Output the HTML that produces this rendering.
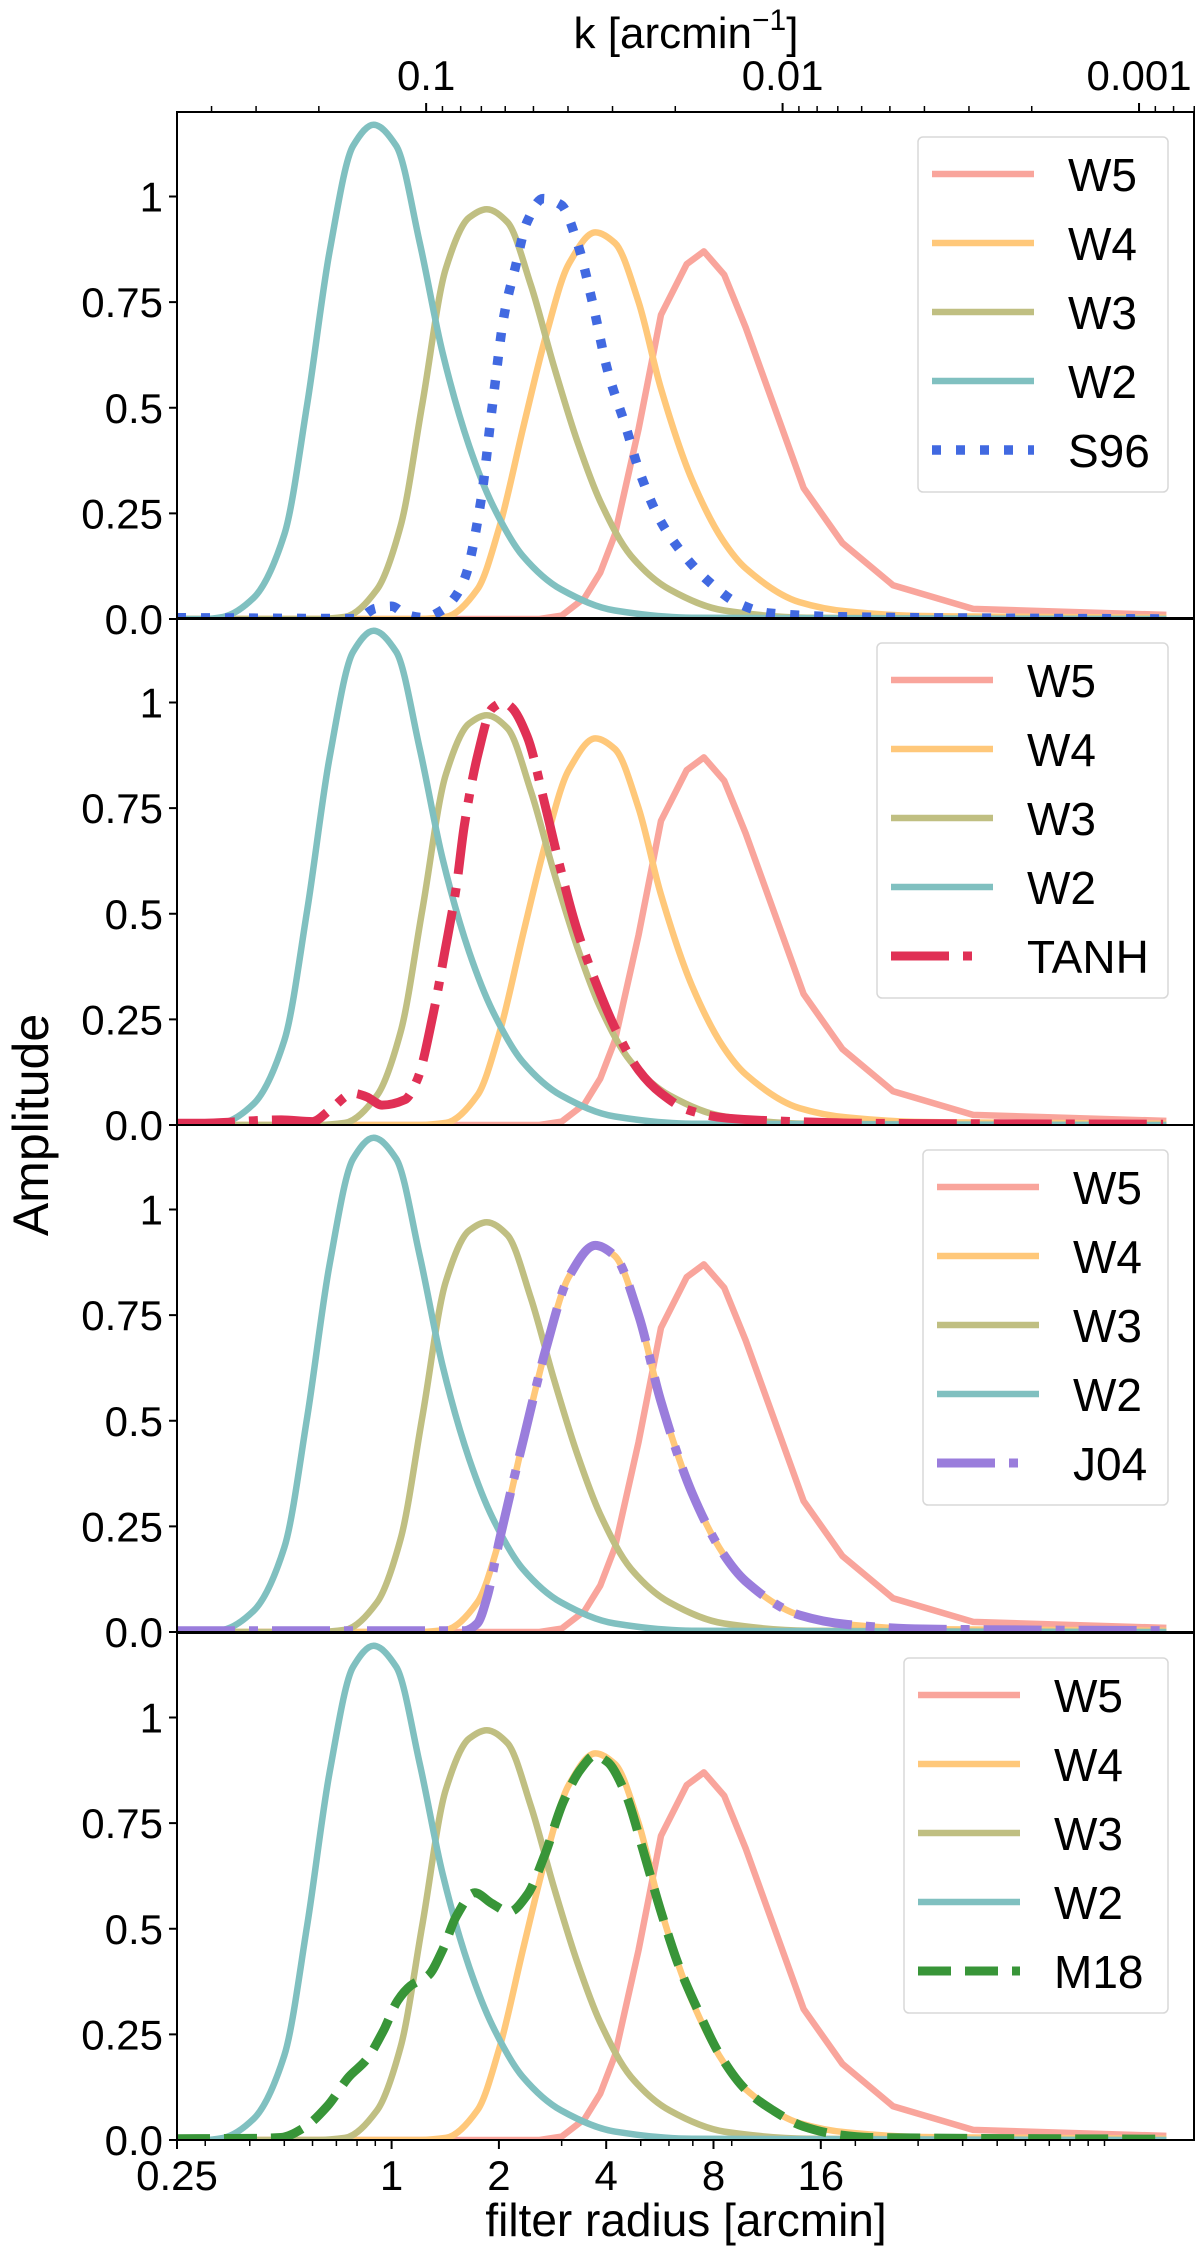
<!DOCTYPE html>
<html><head><meta charset="utf-8"><style>
html,body{margin:0;padding:0;background:#fff;}
svg{display:block;font-family:"Liberation Sans","DejaVu Sans",sans-serif;}
</style></head><body>
<svg id="chart" width="1200" height="2255" viewBox="0 0 1200 2255" xmlns="http://www.w3.org/2000/svg">
<text x="686" y="48" font-size="44" text-anchor="middle">k [arcmin<tspan font-size="30" dy="-18">−1</tspan><tspan dy="18">]</tspan></text>
<text transform="translate(48,1125) rotate(-90)" font-size="50" text-anchor="middle">Amplitude</text>
<text x="686" y="2236" font-size="46" text-anchor="middle">filter radius [arcmin]</text>
</svg>
<script>
// ---- data (radius in arcmin, amplitude) ----
const w2R = [0.25,0.30,0.337,0.41,0.5,0.58,0.67,0.78,0.89,1.03,1.20,1.39,1.65,1.92,2.33,2.99,4.23,6.96,146];
const w2A = [0,0,0.005,0.05,0.2,0.51,0.87,1.12,1.17,1.12,0.89,0.63,0.41,0.27,0.15,0.07,0.02,0.003,0];
const w3R = [0.25,0.62,0.74,0.91,1.06,1.22,1.42,1.65,1.85,2.11,2.46,2.85,3.32,3.84,4.69,6.02,8.57,14.62,146];
const w3A = [0,0,0.005,0.07,0.22,0.51,0.83,0.95,0.97,0.94,0.79,0.6,0.42,0.28,0.15,0.07,0.02,0.003,0];
const w4R = [0.25,1.2,1.42,1.74,2.01,2.35,2.71,3.14,3.73,4.23,4.93,5.70,6.96,8.52,9.85,13.93,18.9,30.9,146];
const w4A = [0,0,0.005,0.07,0.22,0.46,0.67,0.84,0.915,0.89,0.75,0.545,0.33,0.185,0.12,0.04,0.018,0.007,0.003];
const w5R = [0.25,2.6,3.0,3.48,3.85,4.23,4.93,5.70,6.73,7.52,8.57,9.85,14.32,18.4,25.5,42.8,146];
const w5A = [0,0,0.008,0.05,0.11,0.2,0.45,0.72,0.84,0.87,0.815,0.69,0.31,0.18,0.08,0.024,0.01];
const s96R = [0.25,0.80,0.9,1.0,1.1,1.23,1.38,1.5,1.61,1.78,1.92,2.07,2.22,2.40,2.66,2.99,3.32,3.66,4.03,4.56,4.93,5.70,6.63,7.73,9.38,11.47,18.9,146];
const s96A = [0.003,0.001,0.025,0.03,0.01,0.003,0.02,0.05,0.1,0.28,0.51,0.72,0.83,0.94,0.995,0.98,0.89,0.75,0.59,0.45,0.355,0.23,0.15,0.09,0.037,0.014,0.005,0];
const tanhR = [0.25,0.285,0.49,0.60,0.67,0.78,0.85,0.94,1.09,1.18,1.31,1.41,1.52,1.60,1.75,1.91,2.06,2.16,2.40,2.69,2.93,3.29,3.71,4.26,4.93,5.70,6.77,8.75,13.55,22.0,146];
const tanhA = [0.004,0.004,0.012,0.008,0.035,0.075,0.067,0.047,0.06,0.107,0.265,0.41,0.565,0.71,0.88,0.985,1.0,0.99,0.92,0.76,0.63,0.47,0.345,0.225,0.13,0.075,0.036,0.016,0.008,0.004,0.002];
const j04R = [0.25,1.60,1.74,1.85,2.01,2.35,2.71,3.14,3.73,4.23,4.93,5.70,6.96,8.52,9.85,13.93,18.9,30.9,146];
const j04A = [0.003,0.003,0.02,0.08,0.22,0.46,0.67,0.84,0.915,0.89,0.75,0.545,0.33,0.185,0.12,0.04,0.018,0.007,0.003];
const m18R = [0.25,0.43,0.49,0.57,0.66,0.76,0.85,0.95,1.04,1.13,1.27,1.39,1.52,1.71,1.91,2.14,2.40,2.69,3.03,3.41,3.71,4.03,4.53,5.06,5.70,6.41,7.21,8.28,9.85,11.71,14.32,18.1,22.0,146];
const m18A = [0.003,0.004,0.006,0.03,0.08,0.15,0.19,0.26,0.33,0.365,0.39,0.45,0.53,0.585,0.56,0.54,0.58,0.675,0.8,0.88,0.91,0.895,0.82,0.69,0.54,0.41,0.31,0.206,0.119,0.071,0.032,0.012,0.006,0.002];
const yTickValues = [0, 0.25, 0.5, 0.75, 1];
const yTickLabels = ["0.0", "0.25", "0.5", "0.75", "1"];
const xTickValues = [0.25, 1, 2, 4, 8, 16];
const xTickLabels = ["0.25", "1", "2", "4", "8", "16"];
const kTickValues = [0.1, 0.01, 0.001];
const kTickLabels = ["0.1", "0.01", "0.001"];

// ---- layout ----
const NS = "http://www.w3.org/2000/svg";
const svg = document.getElementById("chart");
const L = 177, R = 1194, PH = 507;
const tops = [112, 618, 1125, 1633];
const PX2 = 107.3;
function xr(r){ return L + PX2 * Math.log2(r / 0.25); }
function xk(k){ return xr(1 / (8 * k)); }
function yv(top, v){ return top + PH - v * (PH / 1.2); }
function mk(tag, attrs){ const e = document.createElementNS(NS, tag); for (const k in attrs) e.setAttribute(k, attrs[k]); return e; }
// monotone cubic (Fritsch-Carlson) path
function smoothPath(pts){
  const n = pts.length;
  const dx = [], dy = [], m = [];
  for (let i = 0; i < n-1; i++){ dx.push(pts[i+1][0]-pts[i][0]); dy.push(pts[i+1][1]-pts[i][1]); m.push(dy[i]/dx[i]); }
  const t = new Array(n);
  t[0] = m[0]; t[n-1] = m[n-2];
  for (let i = 1; i < n-1; i++){
    if (m[i-1]*m[i] <= 0) t[i] = 0;
    else { const w1 = 2*dx[i]+dx[i-1], w2 = dx[i]+2*dx[i-1]; t[i] = (w1+w2)/(w1/m[i-1]+w2/m[i]); }
  }
  let d = "M" + pts[0][0].toFixed(1) + "," + pts[0][1].toFixed(1);
  for (let i = 0; i < n-1; i++){
    const h = dx[i]/3;
    d += "C" + (pts[i][0]+h).toFixed(1)+","+(pts[i][1]+t[i]*h).toFixed(1)+" "+(pts[i+1][0]-h).toFixed(1)+","+(pts[i+1][1]-t[i+1]*h).toFixed(1)+" "+pts[i+1][0].toFixed(1)+","+pts[i+1][1].toFixed(1);
  }
  return d;
}
function linePath(pts){ return pts.map((p,i)=>(i?"L":"M")+p[0].toFixed(1)+","+p[1].toFixed(1)).join(""); }

const W = {
  W5: {r: w5R, a: w5A, color: "#f9a59c", smooth: false},
  W4: {r: w4R, a: w4A, color: "#ffc87a", smooth: true},
  W3: {r: w3R, a: w3A, color: "#c0bf82", smooth: true},
  W2: {r: w2R, a: w2A, color: "#80c0c0", smooth: true}
};
const specials = [
  {name: "S96", r: s96R, a: s96A, color: "#4169e1", dash: "9,15", legDash: "9,15", lw: 9.5, legendLeft: 918},
  {name: "TANH", r: tanhR, a: tanhA, color: "#e03055", dash: "58,14,9,14", legDash: "58,14,9,40", lw: 9, legendLeft: 877},
  {name: "J04", r: j04R, a: j04A, color: "#9a7ddc", dash: "58,14,9,14", legDash: "58,14,9,40", lw: 9, legendLeft: 923},
  {name: "M18", r: m18R, a: m18A, color: "#389538", dash: "33,14", legDash: "33,14", lw: 9, legendLeft: 904}
];

const defs = mk("defs", {});
svg.appendChild(defs);

tops.forEach((top, pi) => {
  const sp = specials[pi];
  const g = mk("g", {});
  
  
  svg.appendChild(g);
  const cp = mk("clipPath", {id: "clip" + pi});
  cp.appendChild(mk("rect", {x: L, y: top, width: R - L, height: PH}));
  defs.appendChild(cp);
  const lines = mk("g", {"clip-path": "url(#clip" + pi + ")"});
  g.appendChild(lines);
  for (const name of ["W5","W4","W3","W2"]){
    const s = W[name];
    const pts = s.r.map((r,i)=>[xr(r), yv(top, s.a[i])]);
    const p = mk("path", {d: s.smooth ? smoothPath(pts) : linePath(pts), fill: "none", stroke: s.color, "stroke-width": 6.5, "stroke-linejoin": "round", "stroke-linecap": "square"});
    
    
    lines.appendChild(p);
  }
  const spts = sp.r.map((r,i)=>[xr(r), yv(top, sp.a[i])]);
  const spath = mk("path", {d: smoothPath(spts), fill: "none", stroke: sp.color, "stroke-width": sp.lw, "stroke-dasharray": sp.dash, "stroke-linejoin": "round"});
  
  
  lines.appendChild(spath);

  const frame = mk("rect", {x: L, y: top, width: R - L, height: PH, fill: "none", stroke: "#000", "stroke-width": 2});
  
  
  g.appendChild(frame);

  yTickValues.forEach((v, i) => {
    const y = yv(top, v);
    g.appendChild(mk("line", {x1: L - 8, x2: L, y1: y, y2: y, stroke: "#000", "stroke-width": 2}));
    const t = mk("text", {x: L - 14, y: y + 15, "font-size": 42, "text-anchor": "end"});
    t.textContent = yTickLabels[i];
    
    
    g.appendChild(t);
  });

  const lx = sp.legendLeft, lw = 1168 - lx, ly = top + 25;
  const leg = mk("g", {});
  
  
  g.appendChild(leg);
  leg.appendChild(mk("rect", {x: lx, y: ly, width: lw, height: 355, rx: 5, fill: "#fff", "fill-opacity": 0.8, stroke: "#d8d8d8", "stroke-width": 1.5}));
  const entries = [["W5", W.W5.color, null, 6.5],["W4", W.W4.color, null, 6.5],["W3", W.W3.color, null, 6.5],["W2", W.W2.color, null, 6.5],[sp.name, sp.color, sp.legDash, sp.lw]];
  entries.forEach((e, i) => {
    const y = top + 62 + i * 69;
    const ln = mk("line", {x1: lx + 14, x2: lx + 116, y1: y, y2: y, stroke: e[1], "stroke-width": e[3]});
    if (e[2]) ln.setAttribute("stroke-dasharray", e[2]);
    leg.appendChild(ln);
    const t = mk("text", {x: lx + 150, y: y + 17, "font-size": 46});
    t.textContent = e[0];
    
    
    leg.appendChild(t);
  });
});

const bottom = tops[3] + PH;
const minorR = [0.3,0.4,0.5,0.6,0.7,0.8,0.9,3,5,6,7,9,20,30,40,50,60,70,80,90,100];
minorR.forEach(r => {
  const x = xr(r); if (x > R) return;
  svg.appendChild(mk("line", {x1: x, x2: x, y1: bottom, y2: bottom + 6, stroke: "#000", "stroke-width": 1.5}));
});
xTickValues.forEach((v, i) => {
  const x = xr(v);
  svg.appendChild(mk("line", {x1: x, x2: x, y1: bottom, y2: bottom + 9, stroke: "#000", "stroke-width": 2}));
  const t = mk("text", {x: x, y: bottom + 50, "font-size": 42, "text-anchor": "middle"});
  t.textContent = xTickLabels[i];
  
  
  svg.appendChild(t);
});

const topY = tops[0];
const minorK = [0.4,0.3,0.2,0.09,0.08,0.07,0.06,0.05,0.04,0.03,0.02,0.009,0.008,0.007,0.006,0.005,0.004,0.003,0.002,0.0009,0.0008,0.0007];
minorK.forEach(k => {
  const x = xk(k); if (x > R + 1 || x < L) return;
  svg.appendChild(mk("line", {x1: x, x2: x, y1: topY - 6, y2: topY, stroke: "#000", "stroke-width": 1.5}));
});
kTickValues.forEach((k, i) => {
  const x = xk(k);
  svg.appendChild(mk("line", {x1: x, x2: x, y1: topY - 9, y2: topY, stroke: "#000", "stroke-width": 2}));
  const t = mk("text", {x: x, y: topY - 22, "font-size": 42, "text-anchor": "middle"});
  t.textContent = kTickLabels[i];
  
  
  svg.appendChild(t);
});
</script>
</body></html>
